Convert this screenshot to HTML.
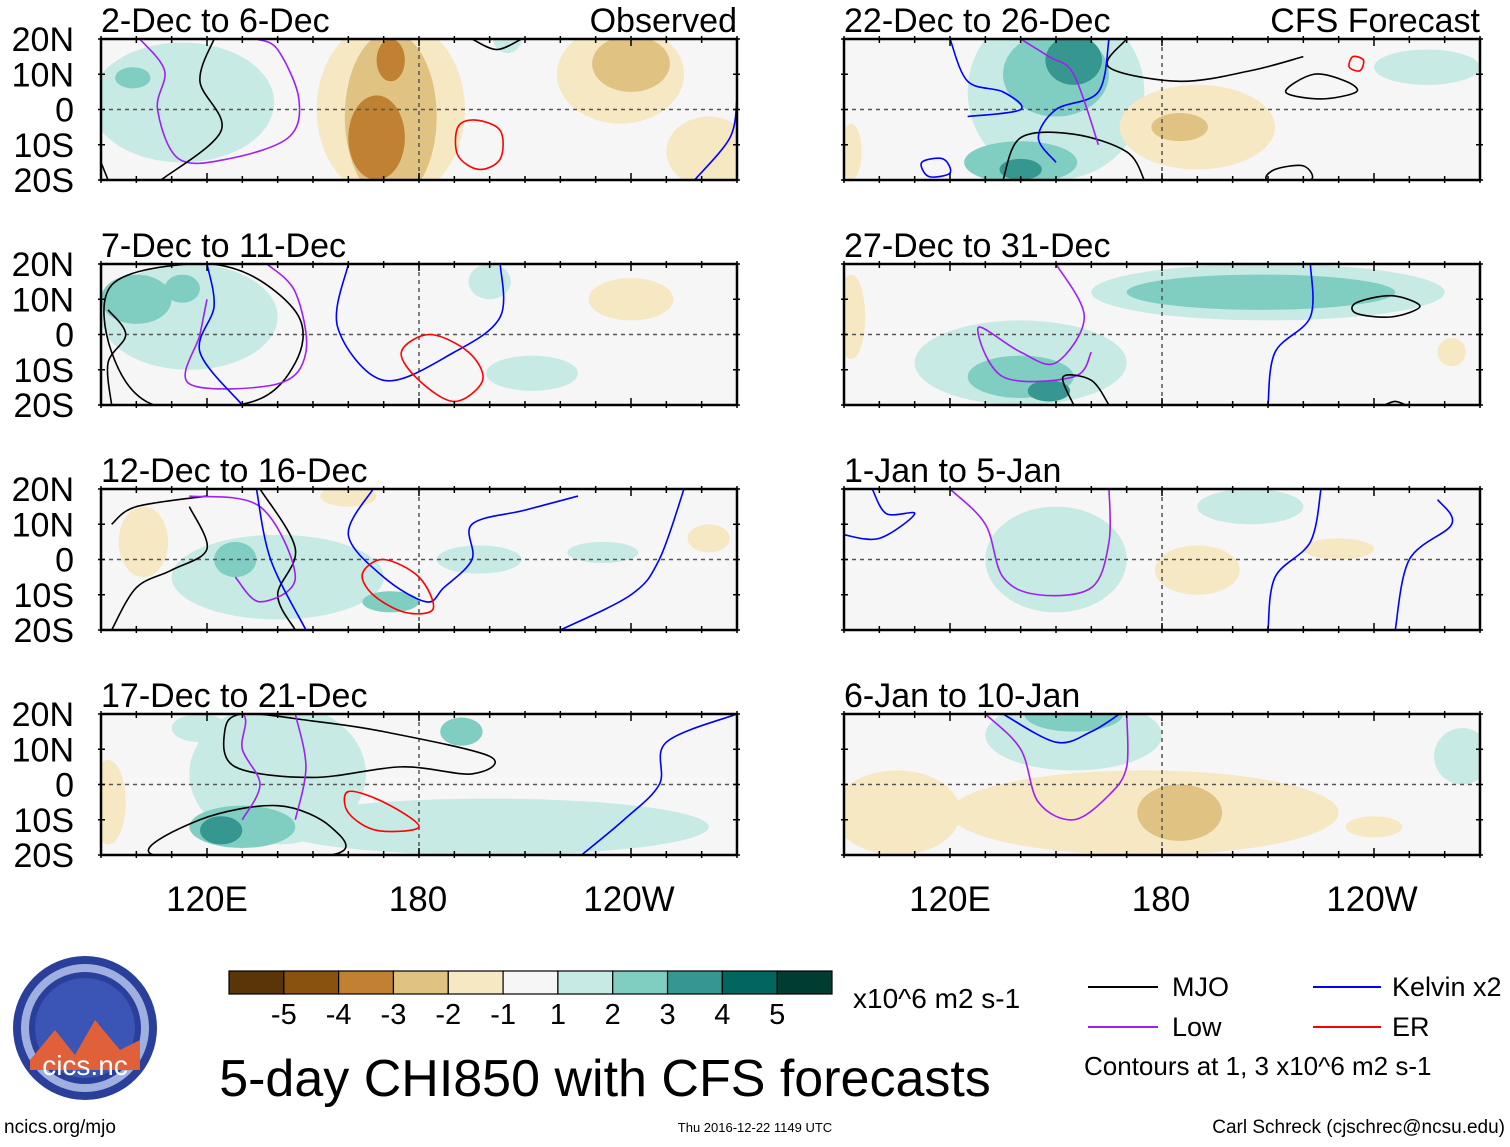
<!DOCTYPE html>
<html><head><meta charset="utf-8"><style>
body{margin:0;background:#fff;}
svg text{font-family:"Liberation Sans",Arial,sans-serif;}
</style></head><body>
<svg id="chart" width="1510" height="1142" viewBox="0 0 1510 1142" xmlns="http://www.w3.org/2000/svg">
<rect width="1510" height="1142" fill="#fff"/>
<g id="panels"></g>
<g font-size="35" text-anchor="middle">
<text x="207" y="911">120E</text><text x="418" y="911">180</text><text x="629" y="911">120W</text>
<text x="950" y="911">120E</text><text x="1161" y="911">180</text><text x="1372" y="911">120W</text>
</g>
<g id="colorbar"></g>
<text x="853" y="1008" font-size="28">x10^6 m2 s-1</text>
<g font-size="27">
<line x1="1088" y1="987" x2="1158" y2="987" stroke="#000" stroke-width="2"/><text x="1172" y="996">MJO</text>
<line x1="1313" y1="987" x2="1381" y2="987" stroke="#0000ff" stroke-width="2"/><text x="1392" y="996">Kelvin x2</text>
<line x1="1088" y1="1027" x2="1158" y2="1027" stroke="#a020f0" stroke-width="2"/><text x="1172" y="1036">Low</text>
<line x1="1313" y1="1027" x2="1381" y2="1027" stroke="#ff0000" stroke-width="2"/><text x="1392" y="1036">ER</text>
<text x="1084" y="1075" font-size="26">Contours at 1, 3 x10^6 m2 s-1</text>
</g>
<text x="605" y="1096" font-size="52" text-anchor="middle">5-day CHI850 with CFS forecasts</text>
<g>
<circle cx="85" cy="1028" r="72" fill="#2a3f9a"/>
<circle cx="85" cy="1028" r="60" fill="none" stroke="#9fb0e0" stroke-width="8"/>
<circle cx="85" cy="1028" r="50" fill="#3a55b5"/>
<path d="M30 1060 L55 1030 L75 1055 L95 1020 L120 1050 L140 1040 L140 1070 L30 1070Z" fill="#e0603a"/>
<text x="85" y="1075" font-size="28" fill="#fff" text-anchor="middle">cics.nc</text>
</g>
<text x="4" y="1133" font-size="19">ncics.org/mjo</text>
<text x="755" y="1132" font-size="13" text-anchor="middle">Thu 2016-12-22 1149 UTC</text>
<text x="1505" y="1133" font-size="19" text-anchor="end">Carl Schreck (cjschrec@ncsu.edu)</text>
</svg>
<script>
const levelColors=["#5a3508","#8a520f","#c08232","#e0c283","#f6e8c3","#f6f6f6","#c7eae5","#80cdc1","#35978f","#01665e","#003c30"];
const levelTicks=["-5","-4","-3","-2","-1","1","2","3","4","5"];
const panelTitles=["2-Dec to 6-Dec","7-Dec to 11-Dec","12-Dec to 16-Dec","17-Dec to 21-Dec","22-Dec to 26-Dec","27-Dec to 31-Dec","1-Jan to 5-Jan","6-Jan to 10-Jan"];
const latTicks=["20N","10N","0","10S","20S"];
// blobs: [lon, lat, radiusLon, radiusLat, level(-3..3)]
const blobs0=[[113,2,26,17,1],[99,9,5,3,2],[172,0,21,26,-1],[172,-2,13,24,-2],[168,-8,8,12,-3],[172,14,4,6,-3],[237,10,18,14,-1],[240,13,11,8,-2],[262,-12,12,10,-1],[205,20,4,4,1]];
const blobs1=[[115,5,25,15,1],[100,10,10,7,2],[113,13,5,4,2],[200,15,6,5,1],[212,-11,13,5,1],[240,10,12,6,-1]];
const blobs2=[[140,-5,30,12,1],[128,0,6,5,2],[172,-12,8,3,2],[197,0,12,4,1],[232,2,10,3,1],[102,5,7,10,-1],[160,18,8,3,-1],[262,6,6,4,-1]];
const blobs3=[[140,3,25,20,1],[200,-12,62,8,1],[130,-12,15,6,2],[124,-13,6,4,3],[118,16,8,4,1],[192,15,6,4,2],[92,-5,5,12,-1]];
const blobs4=[[150,5,25,25,1],[150,10,15,12,2],[155,14,8,7,3],[140,-15,16,6,2],[140,-17,6,3,3],[255,12,15,5,1],[190,-5,22,12,-1],[185,-5,8,4,-2],[92,-12,3,8,-1]];
const blobs5=[[210,12,50,8,1],[208,12,38,5,2],[140,-8,30,12,1],[140,-12,15,6,2],[148,-16,6,3,3],[92,5,4,12,-1],[262,-5,4,4,-1]];
const blobs6=[[150,0,20,15,1],[205,15,15,5,1],[190,-3,12,7,-1],[230,3,10,3,-1]];
const blobs7=[[155,14,25,10,1],[155,20,14,5,2],[175,-8,55,12,-1],[185,-8,12,8,-2],[105,-8,18,12,-1],[240,-12,8,3,-1],[265,8,8,8,1]];
// contours: [type, closed, [[lon,lat],...]]
const lines0=[["low",0,[[101,20],[108,11],[106,0],[112,-14],[126,-14],[143,-8],[146,3],[140,17],[134,20]]],["mjo",0,[[122,20],[118,8],[124,-6],[107,-20]]],["mjo",0,[[90,-15],[92,-20]]],["mjo",0,[[195,20],[202,17],[209,20]]],["er",1,[[196,-3],[203,-6],[203,-14],[197,-17],[191,-13],[191,-5]]],["kel",0,[[270,3],[268,-8],[258,-20]]]];
const lines1=[["mjo",1,[[93,14],[115,20],[132,17],[146,5],[145,-8],[133,-19],[105,-20],[93,-5]]],["low",0,[[137,20],[145,12],[148,-5],[140,-14],[115,-14],[118,0],[120,10]]],["kel",0,[[160,20],[157,2],[170,-13],[190,-5],[203,5],[203,20]]],["kel",0,[[120,20],[122,8],[118,-5],[130,-20]]],["er",1,[[183,0],[194,-5],[198,-13],[190,-19],[180,-13],[175,-5]]],["mjo",0,[[92,7],[97,0],[92,-8],[93,-20]]]];
const lines2=[["mjo",0,[[93,10],[100,15],[120,18]]],["mjo",0,[[93,-20],[100,-8],[110,-3],[120,3],[115,15]]],["mjo",0,[[145,-20],[140,-10],[145,3],[135,20]]],["low",0,[[115,18],[135,15],[145,-5],[135,-12],[128,-5]]],["kel",0,[[134,20],[138,0],[148,-20]]],["kel",0,[[167,20],[160,7],[170,-5],[182,-12],[187,-8],[195,0],[195,10],[210,14],[225,18]]],["kel",0,[[255,20],[248,0],[240,-10],[220,-20]]],["er",1,[[170,0],[180,-5],[184,-14],[176,-15],[167,-10],[164,-4]]]];
const lines3=[["mjo",1,[[130,20],[150,18],[170,15],[200,8],[195,3],[175,5],[150,2],[128,5],[125,15]]],["mjo",1,[[105,-20],[118,-10],[140,-6],[155,-12],[155,-20]]],["low",0,[[115,20],[130,20],[130,10],[135,0],[130,-10]]],["low",0,[[145,20],[148,5],[145,-10]]],["er",1,[[160,-2],[170,-5],[180,-12],[168,-13],[160,-8]]],["kel",0,[[270,20],[250,12],[248,0],[238,-10],[226,-20]]]];
const lines4=[["mjo",0,[[135,-20],[140,-8],[155,-7],[170,-12],[175,-20]]],["mjo",0,[[170,20],[165,12],[185,8],[205,11],[220,15]]],["mjo",1,[[223,10],[232,8],[235,5],[225,3],[215,5]]],["er",1,[[234,15],[237,14],[236,11],[233,12]]],["kel",0,[[120,20],[125,8],[135,5],[140,0],[125,-2]]],["kel",0,[[165,20],[162,5],[150,0],[145,-8],[150,-15]]],["kel",1,[[112,-15],[118,-14],[120,-18],[114,-19]]],["low",0,[[140,20],[148,15],[155,10],[162,-10]]],["mjo",1,[[212,-17],[220,-16],[222,-20],[210,-20]]]];
const lines5=[["low",0,[[150,20],[158,5],[150,-8],[140,-5],[128,2],[135,-12],[155,-12],[160,-5]]],["mjo",0,[[155,-20],[152,-12],[160,-13],[165,-20]]],["mjo",1,[[235,9],[245,11],[253,8],[245,5],[235,6]]],["kel",0,[[222,20],[222,5],[212,-5],[210,-20]]],["mjo",0,[[243,-20],[246,-19],[249,-20]]]];
const lines6=[["low",0,[[120,20],[130,10],[135,-5],[145,-10],[160,-8],[165,5],[165,20]]],["kel",0,[[98,20],[102,13],[110,13],[100,6],[90,7]]],["kel",0,[[225,20],[222,5],[212,-5],[210,-20]]],["kel",0,[[258,17],[262,10],[250,0],[246,-20]]]];
const lines7=[["kel",0,[[135,20],[150,12],[160,15],[168,20]]],["low",0,[[130,20],[140,10],[145,-5],[155,-10],[165,-3],[170,5],[170,20]]]];
const allBlobs=[blobs0,blobs1,blobs2,blobs3,blobs4,blobs5,blobs6,blobs7];
const allLines=[lines0,lines1,lines2,lines3,lines4,lines5,lines6,lines7];
const lineColor={mjo:"#000",low:"#a020f0",kel:"#0000ff",er:"#ff0000"};

const NS="http://www.w3.org/2000/svg";
function mk(t,a,p){const e=document.createElementNS(NS,t);for(const k in a)e.setAttribute(k,a[k]);p.appendChild(e);return e;}
const W=636,H=141;
function panelOrigin(i){return [i<4?101:844, 39+(i%4)*225];}
function smoothPath(pts,closed){
  const n=pts.length;let d=`M${pts[0][0]},${pts[0][1]}`;
  const get=k=>closed?pts[(k+n)%n]:pts[Math.max(0,Math.min(n-1,k))];
  const segs=closed?n:n-1;
  for(let k=0;k<segs;k++){const p0=get(k-1),p1=get(k),p2=get(k+1),p3=get(k+2);
    d+=` C${p1[0]+(p2[0]-p0[0])/6},${p1[1]+(p2[1]-p0[1])/6} ${p2[0]-(p3[0]-p1[0])/6},${p2[1]-(p3[1]-p1[1])/6} ${p2[0]},${p2[1]}`;}
  return d+(closed?"Z":"");
}
const root=document.getElementById("panels");
for(let i=0;i<8;i++){
  const [x0,y0]=panelOrigin(i);
  const xs=lon=>x0+(lon-90)*W/180, ys=lat=>y0+(20-lat)*H/40;
  const g=mk("g",{},root);
  
  
  const cp=mk("clipPath",{id:"cp"+i},g);mk("rect",{x:x0,y:y0,width:W,height:H},cp);
  mk("rect",{x:x0,y:y0,width:W,height:H,fill:"#f6f6f6"},g);
  const inner=mk("g",{"clip-path":`url(#cp${i})`},g);
  const bl=allBlobs[i].slice().sort((a,b)=>Math.abs(a[4])-Math.abs(b[4]));
  for(const b of bl){
    const e=mk("ellipse",{cx:xs(b[0]),cy:ys(b[1]),rx:b[2]*W/180,ry:b[3]*H/40,fill:levelColors[5+b[4]]},inner);
    
    
  }
  mk("line",{x1:x0,y1:ys(0),x2:x0+W,y2:ys(0),stroke:"#555","stroke-dasharray":"4,4","stroke-width":1.5},inner);
  mk("line",{x1:xs(180),y1:y0,x2:xs(180),y2:y0+H,stroke:"#555","stroke-dasharray":"4,4","stroke-width":1.5},inner);
  for(const l of allLines[i]){
    const p=mk("path",{d:smoothPath(l[2].map(q=>[xs(q[0]),ys(q[1])]),l[1]),fill:"none",stroke:lineColor[l[0]],"stroke-width":1.6},inner);
    
    
  }
  mk("rect",{x:x0,y:y0,width:W,height:H,fill:"none",stroke:"#000","stroke-width":2.5},g);
  for(let lon=90;lon<=270;lon+=10){const big=(lon%60===0);const x=xs(lon);
    mk("line",{x1:x,y1:y0-3,x2:x,y2:y0+(big?7:4),stroke:"#000","stroke-width":1.5},g);
    mk("line",{x1:x,y1:y0+H+3,x2:x,y2:y0+H-(big?7:4),stroke:"#000","stroke-width":1.5},g);}
  for(let lat=-20;lat<=20;lat+=10){const y=ys(lat);
    mk("line",{x1:x0-3,y1:y,x2:x0+4,y2:y,stroke:"#000","stroke-width":1.5},g);
    mk("line",{x1:x0+W+3,y1:y,x2:x0+W-4,y2:y,stroke:"#000","stroke-width":1.5},g);}
  const t=mk("text",{x:x0,y:y0-7,"font-size":34},g);t.textContent=panelTitles[i];
  
  
  if(i===0||i===4){const s=mk("text",{x:x0+W,y:y0-7,"font-size":34,"text-anchor":"end"},g);s.textContent=i===0?"Observed":"CFS Forecast";
    
    }
  if(i<4){latTicks.forEach((lt,k)=>{const tt=mk("text",{x:74,y:y0+k*H/4+12,"font-size":34,"text-anchor":"end"},g);tt.textContent=lt;
    
    });}
}
const cb=document.getElementById("colorbar");
const bw=(832-229)/11;
levelColors.forEach((c,k)=>{const r=mk("rect",{x:229+k*bw,y:971,width:bw,height:23,fill:c,stroke:"#000","stroke-width":1.2},cb);
  
  });
levelTicks.forEach((lt,k)=>{const t=mk("text",{x:229+(k+1)*bw,y:1024,"font-size":29,"text-anchor":"middle"},cb);t.textContent=lt;
  
  });
</script>
</body></html>
